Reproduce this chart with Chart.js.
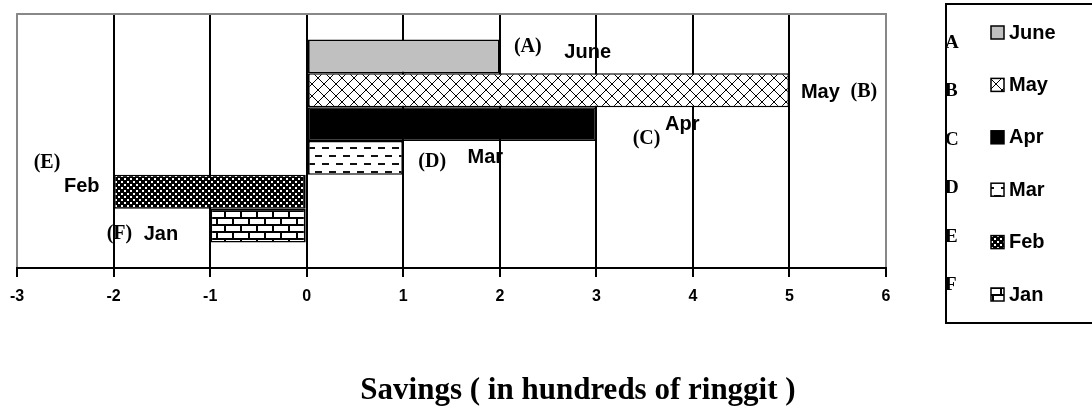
<!DOCTYPE html>
<html lang="en">
<head>
<meta charset="UTF-8">
<title>Savings</title>
<script src="https://cdn.jsdelivr.net/npm/chart.js@4.4.1/dist/chart.umd.min.js"></script>
<style>
  body { margin: 0; background: #fff; }
  #wrap { position: relative; width: 1092px; height: 406px; }
</style>
</head>
<body>
<div id="wrap"><canvas id="savings"></canvas></div>
<script>
  // chart values
  const months = ["June", "May", "Apr", "Mar", "Feb", "Jan"];
  const letters = ["A", "B", "C", "D", "E", "F"];
  const savings = [2, 5, 3, 1, -2, -1];
  const xTicks = [-3, -2, -1, 0, 1, 2, 3, 4, 5, 6];
  const axisTitle = "Savings ( in hundreds of ringgit )";

  const SANS = '"Liberation Sans", Arial, sans-serif';
  const SERIF = '"Liberation Serif", "Times New Roman", serif';

  let canvas = document.getElementById("savings");
  let ctx = canvas.getContext("2d");

  // small tiles for the bar fills
  function tile(w, h, paint) {
    const c = document.createElement("canvas");
    c.width = w;
    c.height = h;
    const g = c.getContext("2d");
    g.fillStyle = "#fff";
    g.fillRect(0, 0, w, h);
    paint(g);
    return ctx.createPattern(c, "repeat");
  }

  const fills = [
    "#c0c0c0",
    tile(12, 12, (g) => {
      g.strokeStyle = "#000";
      g.lineWidth = 1;
      g.beginPath();
      g.moveTo(0, 0); g.lineTo(12, 12);
      g.moveTo(12, 0); g.lineTo(0, 12);
      g.stroke();
    }),
    "#000",
    tile(14, 16, (g) => {
      g.fillStyle = "#111";
      g.fillRect(0, 3, 7, 2);
      g.fillRect(7, 11, 7, 2);
    }),
    tile(6, 6, (g) => {
      g.fillStyle = "#000";
      g.fillRect(0, 0, 6, 6);
      g.fillStyle = "#fff";
      g.fillRect(1, 1, 2, 2);
      g.fillRect(4, 4, 2, 2);
    }),
    tile(16, 14, (g) => {
      g.fillStyle = "#000";
      g.fillRect(0, 0, 16, 2);
      g.fillRect(0, 7, 16, 2);
      g.fillRect(0, 0, 2, 7);
      g.fillRect(8, 7, 2, 7);
    }),
  ];

  // text tags next to the bars: dataset index, text, x (savings units), dy from bar centre, serif
  const tags = [
    [0, "(A)", 2.29, -10, true],
    [0, "June", 2.91, -4, false],
    [1, "May", 5.32, 2, false],
    [1, "(B)", 5.77, 2, true],
    [2, "Apr", 3.89, 0, false],
    [2, "(C)", 3.52, 15, true],
    [3, "(D)", 1.30, 4, true],
    [3, "Mar", 1.85, 0, false],
    [4, "(E)", -2.69, -29, true],
    [4, "Feb", -2.33, -5, false],
    [5, "(F)", -1.94, 8, true],
    [5, "Jan", -1.51, 9, false],
  ];

  const tagPlugin = {
    id: "tags",
    beforeDraw(chart) {
      const c = chart.ctx;
      const xs = chart.scales.x;
      c.save();
      c.fillStyle = "#000";
      c.textAlign = "center";
      c.textBaseline = "middle";
      tags.forEach(([i, text, xv, dy, serif]) => {
        const bar = chart.getDatasetMeta(i).data[0];
        c.font = serif ? "bold 20px " + SERIF : "bold 20px " + SANS;
        c.fillText(text, xs.getPixelForValue(xv), bar.y + dy);
      });
      c.restore();
    },
    beforeDatasetsDraw(chart) {
      // grey top edge of the plot
      const a = chart.chartArea;
      const c = chart.ctx;
      c.save();
      c.strokeStyle = "#888";
      c.lineWidth = 2;
      c.beginPath();
      c.moveTo(a.left - 1, a.top);
      c.lineTo(a.right + 1, a.top);
      c.stroke();
      c.restore();
    },
    afterDraw(chart) {
      const c = chart.ctx;
      c.save();
      // legend box
      c.strokeStyle = "#000";
      c.lineWidth = 2;
      c.strokeRect(946, 4, 160, 319);
      chart.data.datasets.forEach((ds, i) => {
        const y = 32 + i * 52.4;
        c.fillStyle = ds.backgroundColor;
        c.fillRect(991, y - 6, 13, 13);
        c.lineWidth = 1.5;
        c.strokeRect(991, y - 6, 13, 13);
        c.fillStyle = "#000";
        c.font = "bold 20px " + SANS;
        c.textAlign = "left";
        c.textBaseline = "middle";
        c.fillText(ds.label, 1009, y + 1);
        c.font = "bold 19px " + SERIF;
        c.fillText(letters[i], 945, 43 + i * 48.4);
      });
      // axis title
      c.font = "bold 31px " + SERIF;
      c.textAlign = "center";
      c.textBaseline = "alphabetic";
      c.fillText(axisTitle, 578, 399);
      c.restore();
    },
  };

  const data = {
    labels: [""],
    datasets: months.map((m, i) => ({
      label: m,
      data: [savings[i]],
      backgroundColor: fills[i],
      borderColor: "#000",
      borderWidth: { top: 1.5, bottom: 1.5, left: 2, right: 2 },
      borderSkipped: false,
      categoryPercentage: 0.8,
      barPercentage: 1.0,
    })),
  };

  const config = {
    type: "bar",
    data: data,
    options: {
      indexAxis: "y",
      animation: false,
      responsive: true,
      maintainAspectRatio: false,
      layout: { padding: { left: 17, top: 14, right: 206, bottom: 88 } },
      plugins: {
        legend: { display: false },
        tooltip: { enabled: false },
      },
      scales: {
        x: {
          type: "linear",
          min: -3,
          max: 6,
          afterBuildTicks: (s) => {
            s.ticks = xTicks.map((v) => ({ value: v }));
          },
          afterFit: (s) => {
            s.height = 50;
          },
          grid: {
            color: (c) =>
              c.tick && (c.tick.value === -3 || c.tick.value === 6) ? "#888" : "#000",
            lineWidth: 2,
            tickLength: 9,
            tickColor: "#000",
            tickWidth: 2,
          },
          border: { color: "#000", width: 2 },
          ticks: {
            color: "#000",
            padding: 10,
            font: { family: SANS, size: 16, weight: "bold" },
          },
        },
        y: { display: false },
      },
    },
    plugins: [tagPlugin],
  };

  new Chart(ctx, config);
</script>
</body>
</html>
